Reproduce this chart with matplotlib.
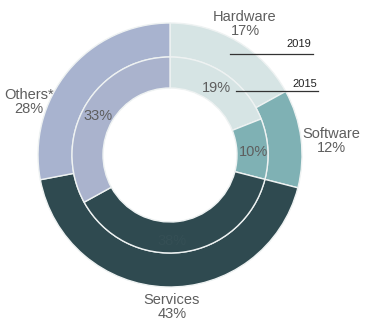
import matplotlib.pyplot as plt

plt.rcParams['font.family'] = ['Liberation Sans', 'DejaVu Sans']

# shares by segment
segments = ['Hardware', 'Software', 'Services', 'Others*']
share_2019 = [17, 12, 43, 28]
share_2015 = [19, 10, 38, 33]
colors_2019 = ['#d6e4e4', '#7fb1b4', '#2f4a50', '#a8b3cf']
colors_2015 = ['#d6e4e4', '#7fb1b4', '#2f4a50', '#aab3cd']

fig = plt.figure(figsize=(3.7, 3.3), dpi=100)
ax = fig.add_axes([0, 0, 1, 1])

cx, cy = 170, 155
# y axis runs downward (pixel coords), so start at -90 and go counterclockwise in data space
ax.pie(share_2019, colors=colors_2019, radius=132, center=(cx, cy),
       startangle=-90, counterclock=True, frame=True,
       wedgeprops=dict(width=34, edgecolor='#eef2f2', linewidth=1))
ax.pie(share_2015, colors=colors_2015, radius=98, center=(cx, cy),
       startangle=-90, counterclock=True, frame=True,
       wedgeprops=dict(width=31, edgecolor='#eef2f2', linewidth=1))
ax.set_xlim(0, 370)
ax.set_ylim(330, 0)
ax.set_aspect('equal')
ax.axis('off')

grey = '#5e5e5e'
fs = 10.5
# outer labels (2019)
ax.text(245, 24, f'{segments[0]}\n{share_2019[0]}%', ha='center', va='center', color=grey, fontsize=fs, linespacing=1.0)
ax.text(331, 141, f'{segments[1]}\n{share_2019[1]}%', ha='center', va='center', color=grey, fontsize=fs, linespacing=1.0)
ax.text(172, 307, f'{segments[2]}\n{share_2019[2]}%', ha='center', va='center', color=grey, fontsize=fs, linespacing=1.0)
ax.text(29, 102, f'{segments[3]}\n{share_2019[3]}%', ha='center', va='center', color=grey, fontsize=fs, linespacing=1.0)

# inner labels (2015); the services one is barely visible in the original
ax.text(216, 88, f'{share_2015[0]}%', ha='center', va='center', color=grey, fontsize=fs)
ax.text(254, 152, f'{share_2015[1]}%', ha='center', va='center', color=grey, fontsize=fs)
ax.text(172, 241, f'{share_2015[2]}%', ha='center', va='center', color='#354f55', fontsize=fs)
ax.text(98, 116, f'{share_2015[3]}%', ha='center', va='center', color=grey, fontsize=fs)

# year markers
ax.plot([230, 313], [54, 54], color='#333333', lw=0.9)
ax.text(299, 44, '2019', ha='center', va='center', color='#222222', fontsize=8)
ax.plot([236, 318], [91, 91], color='#333333', lw=0.9)
ax.text(305, 84, '2015', ha='center', va='center', color='#222222', fontsize=8)

fig.savefig('out.png', dpi=100)
